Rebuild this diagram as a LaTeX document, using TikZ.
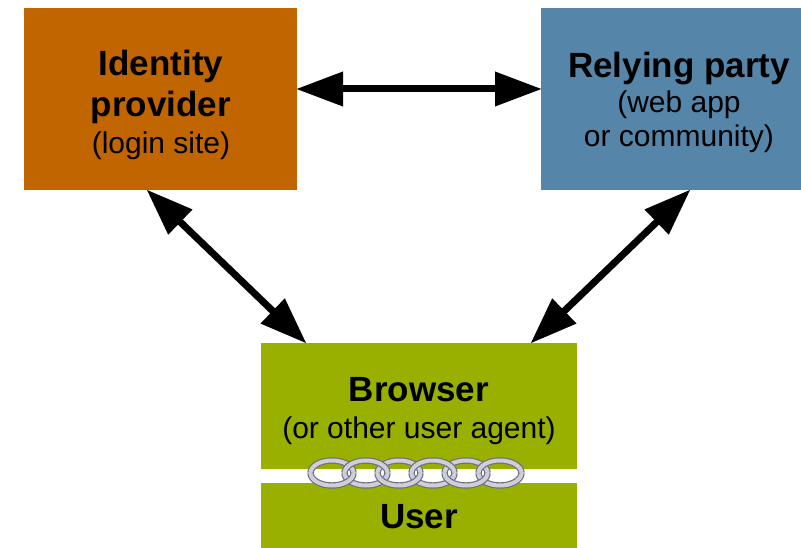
\documentclass[tikz,border=0pt]{standalone}
\usepackage{fontspec}
\setmainfont{Liberation Sans}
\usetikzlibrary{positioning,calc,arrows.meta}
\definecolor{idpcolor}{HTML}{C06500}
\definecolor{rpcolor}{HTML}{5585A8}
\definecolor{usercolor}{HTML}{99B000}
\definecolor{linkedge}{HTML}{70707E}
\definecolor{linkface}{HTML}{CFCFDC}

\begin{document}
\begin{tikzpicture}[
  x = 1pt,
  y = -1pt,
  box/.style={anchor=north west,inner sep=0pt,outer sep=0pt,align=center},
  title/.style={font=\fontsize{35}{41}\selectfont\bfseries},
  note/.style={font=\fontsize{30}{34}\selectfont},
  link/.style={draw=linkedge,double=linkface,line width=1.2pt,double distance=4pt,x radius=21.5pt,y radius=12.5pt},
  both-arrow/.style={{Triangle[length=47pt,width=33pt]}-{Triangle[length=47pt,width=33pt]},line width=7pt},
  ]
  \useasboundingbox (0,0) rectangle (801,548);

  \node [box,fill=idpcolor,minimum width=273pt,minimum height=182pt] (idp) at (24,8) {};
  \node [box,fill=rpcolor,minimum width=260pt,minimum height=182pt] (rp) at (541,8) {};
  \node [box,fill=usercolor,minimum width=316pt,minimum height=126pt] (browser) at (261,343) {};
  \node [box,fill=usercolor,minimum width=316pt,minimum height=65pt] (user) at (261,483) {};

  \node [title,align=center] (idptitle) at (161,87) {Identity\\provider};
  \node [note] (idpnote) at (161,146) {(login site)};
  \node [title] (rptitle) at (679,69) {Relying party};
  \node [note,align=center] (rpnote) at (679,122) {(web app\\or community)};
  \node [title] (browsertitle) at (419,390) {Browser};
  \node [note] (browsernote) at (419,431) {(or other user agent)};
  \node [title] (usertitle) at (419,517) {User};

  \coordinate (idpright) at (296,89);
  \coordinate (rpleft) at (542,89);
  \coordinate (idpbottom) at (146.5,189.5);
  \coordinate (rpbottom) at (690.5,189.5);
  \coordinate (browserleft) at (306.5,343.5);
  \coordinate (browserright) at (530.5,343.5);

  \draw [both-arrow] (idpright) -- (rpleft);
  \draw [both-arrow] (idpbottom) -- (browserleft);
  \draw [both-arrow] (rpbottom) -- (browserright);

  % chain, back arcs first
  \foreach \cx in {332,399,466} \draw [link] (\cx+21.5,473) arc [start angle=0,end angle=180];
  \foreach \cx in {366,433,500} \draw [link] (\cx-21.5,473) arc [start angle=180,end angle=360];
  \foreach \cx in {366,433,500} \draw [link] (\cx+21.5,473) arc [start angle=0,end angle=180];
  \foreach \cx in {332,399,466} \draw [link] (\cx-21.5,473) arc [start angle=180,end angle=360];
\end{tikzpicture}
\end{document}
